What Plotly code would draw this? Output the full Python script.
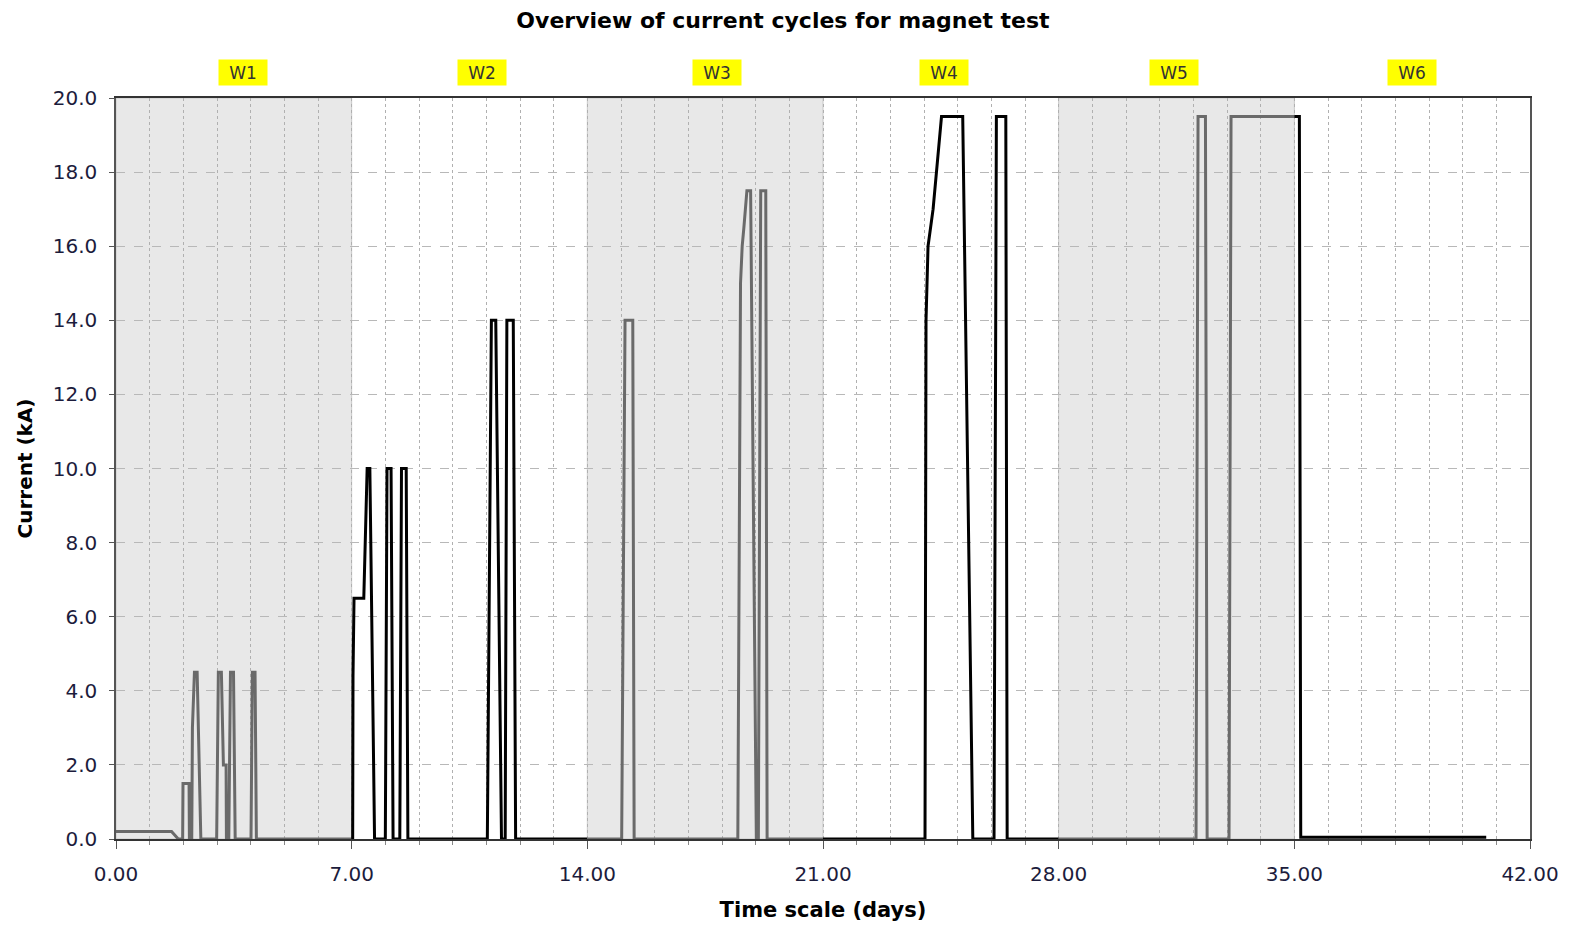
import plotly.graph_objects as go

# ---- data ----
time_days = [
    0.00, 1.65, 1.85, 1.98, 1.99, 2.17, 2.18, 2.25, 2.27, 2.33, 2.41, 2.52,
    2.99, 3.04, 3.13, 3.19, 3.27, 3.28, 3.35, 3.40, 3.49, 3.54,
    4.01, 4.05, 4.13, 4.17,
    7.03, 7.04, 7.07, 7.36, 7.41, 7.46, 7.54, 7.68,
    8.00, 8.05, 8.17, 8.23, 8.43, 8.48, 8.62, 8.67,
    11.03, 11.15, 11.28, 11.45, 11.56, 11.61, 11.80, 11.87,
    15.02, 15.12, 15.35, 15.39,
    18.47, 18.55, 18.60, 18.65, 18.70, 18.74, 18.85, 19.02,
    19.08, 19.15, 19.30, 19.34,
    24.03, 24.06, 24.12, 24.27, 24.37, 24.46, 24.52, 25.15, 25.45,
    26.08, 26.15, 26.43, 26.47,
    32.08, 32.14, 32.36, 32.41,
    33.06, 33.12, 35.15, 35.19, 40.70,
]
current_ka = [
    0.2, 0.2, 0.0, 0.0, 1.5, 1.5, 0.0, 0.0, 3.0, 4.5, 4.5, 0.0,
    0.0, 4.5, 4.5, 2.0, 2.0, 0.0, 0.0, 4.5, 4.5, 0.0,
    0.0, 4.5, 4.5, 0.0,
    0.0, 4.4, 6.5, 6.5, 8.5, 10.0, 10.0, 0.0,
    0.0, 10.0, 10.0, 0.0, 0.0, 10.0, 10.0, 0.0,
    0.0, 14.0, 14.0, 0.0, 0.0, 14.0, 14.0, 0.0,
    0.0, 14.0, 14.0, 0.0,
    0.0, 15.0, 16.0, 16.5, 17.0, 17.5, 17.5, 0.0,
    0.0, 17.5, 17.5, 0.0,
    0.0, 14.0, 16.0, 17.0, 18.0, 19.0, 19.5, 19.5, 0.0,
    0.0, 19.5, 19.5, 0.0,
    0.0, 19.5, 19.5, 0.0,
    0.0, 19.5, 19.5, 0.05, 0.05,
]
week_labels = ["W1", "W2", "W3", "W4", "W5", "W6"]
week_length_days = 7
label_x = [3.78, 10.88, 17.86, 24.58, 31.44, 38.50]
x_ticks = [0, 7, 14, 21, 28, 35, 42]
y_ticks = [0, 2, 4, 6, 8, 10, 12, 14, 16, 18, 20]

SHADE = "#e8e8e8"
GRAY_LINE = "#6a6a6a"
BLACK_LINE = "#000000"
FONT = "DejaVu Sans"

# page has an 8px body margin, so the figure is sized to fit inside it
W, H = 1563, 918


def split_by_week(xs, ys, n_weeks, wl):
    segs = [([], []) for _ in range(n_weeks)]
    for i in range(len(xs)):
        w = min(int(xs[i] // wl), n_weeks - 1)
        segs[w][0].append(xs[i]); segs[w][1].append(ys[i])
        if i + 1 < len(xs):
            w2 = min(int(xs[i + 1] // wl), n_weeks - 1)
            for b in range(w + 1, w2 + 1):
                bx = b * wl
                t = (bx - xs[i]) / (xs[i + 1] - xs[i])
                by = ys[i] + t * (ys[i + 1] - ys[i])
                segs[b - 1][0].append(bx); segs[b - 1][1].append(by)
                segs[b][0].append(bx); segs[b][1].append(by)
    return segs


fig = go.Figure()
segs = split_by_week(time_days, current_ka, len(week_labels), week_length_days)
for w, (sx, sy) in enumerate(segs):
    if not sx:
        continue
    fig.add_trace(go.Scatter(
        x=sx, y=sy, mode="lines",
        line=dict(color=GRAY_LINE if w % 2 == 0 else BLACK_LINE, width=3),
        hoverinfo="x+y", showlegend=False,
    ))

# shaded weeks
for w in range(len(week_labels)):
    if w % 2 == 0:
        fig.add_shape(type="rect", xref="x", yref="paper",
                      x0=w * week_length_days, x1=(w + 1) * week_length_days,
                      y0=0, y1=1, fillcolor=SHADE,
                      line=dict(color="#c8c8c8", width=1), layer="below")

# week labels
for lbl, lx in zip(week_labels, label_x):
    fig.add_annotation(x=lx, xref="x", y=1, yref="paper", yanchor="middle",
                       yshift=26, text=lbl, showarrow=False,
                       width=44, height=21, borderpad=2,
                       bgcolor="#ffff00",
                       font=dict(family=FONT, size=17, color="#333333"))

fig.update_layout(
    width=W, height=H,
    paper_bgcolor="white", plot_bgcolor="white",
    margin=dict(l=108, r=41, t=90, b=87, autoexpand=False),
    title=dict(text="<b>Overview of current cycles for magnet test</b>",
               x=775 / W, xref="container", xanchor="center",
               y=1 - 5 / H, yref="container", yanchor="top",
               font=dict(family=FONT, size=22, color="#000000")),
    font=dict(family=FONT, color="#1c1c3c"),
    showlegend=False,
)
fig.update_xaxes(
    range=[0, 42], tickvals=x_ticks, ticktext=[f"{v:.2f}" for v in x_ticks],
    ticks="outside", ticklen=8, tickcolor="#555", ticklabelstandoff=8,
    tickfont=dict(family=FONT, size=20, color="#1c1c3c"),
    showgrid=True, gridcolor="#b0b0b0", griddash="dot", gridwidth=1,
    minor=dict(dtick=1, showgrid=True, gridcolor="#b0b0b0", griddash="dot",
               ticks="outside", ticklen=4, tickcolor="#888"),
    showline=True, linecolor="#333", linewidth=1.5, mirror=True,
    zeroline=False, automargin=False,
    title=dict(text="<b>Time scale (days)</b>", standoff=18,
               font=dict(family=FONT, size=21, color="#000")),
)
fig.update_yaxes(
    range=[0, 20], tickvals=y_ticks, ticktext=[f"{v:.1f}" for v in y_ticks],
    ticks="outside", ticklen=5, tickcolor="#555", ticklabelstandoff=8,
    tickfont=dict(family=FONT, size=20, color="#1c1c3c"),
    showgrid=True, gridcolor="#b8b8b8", griddash="dash", gridwidth=1,
    showline=True, linecolor="#555", linewidth=1.5, mirror=True,
    zeroline=False, automargin=False,
    title=dict(text="<b>Current (kA)</b>", standoff=15,
               font=dict(family=FONT, size=20, color="#000")),
)

fig.write_html("out.html")
